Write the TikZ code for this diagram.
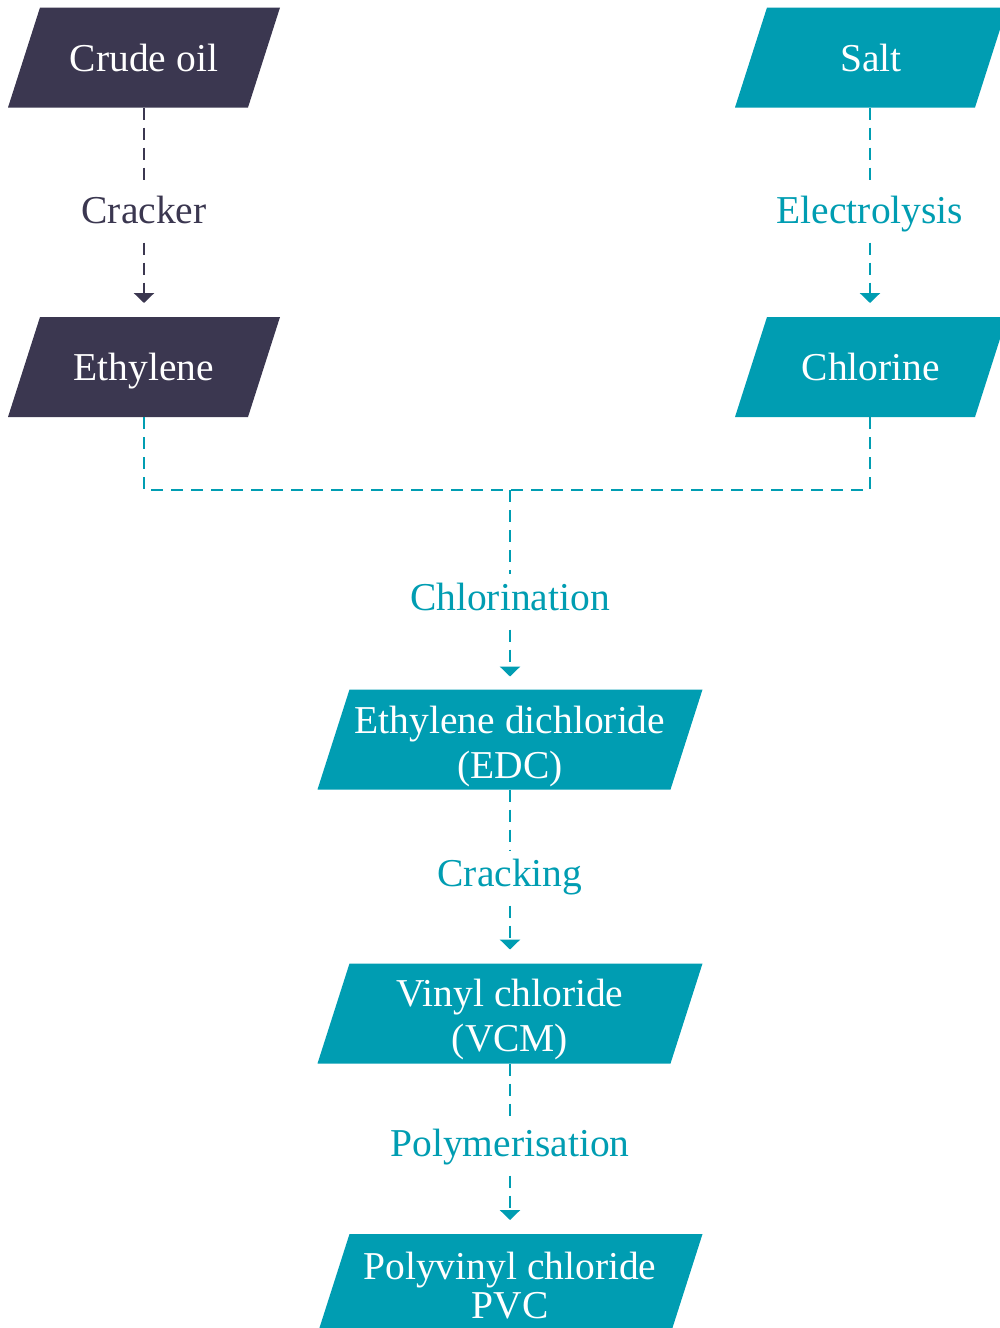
\documentclass[tikz,border=0pt]{standalone}
\usepackage{fontspec}
\setmainfont{Liberation Serif}
\usetikzlibrary{arrows.meta}
\definecolor{dk}{RGB}{59,55,80}
\definecolor{tl}{RGB}{0,157,178}
\newcommand\toprule[1]{\rule{0pt}{#1}}
\newcommand\botrule{\rule[-9.5pt]{0pt}{9.5pt}}
\newcommand\onerule{\rule[-10pt]{0pt}{47pt}}
\begin{document}
\begin{tikzpicture}[x=1pt,y=-1pt,
 box/.style={rectangle, minimum width=272pt, minimum height=100pt, inner sep=0pt, outer sep=0pt, text=white, align=center, font=\fontsize{39.5}{45}\selectfont,
   path picture={\fill[#1] (path picture bounding box.south west) -- ([xshift=-32pt]path picture bounding box.south east) -- (path picture bounding box.north east) -- ([xshift=32pt]path picture bounding box.north west) -- cycle;}},
 darkbox/.style={box=dk},
 tealbox/.style={box=tl},
 wide/.style={minimum width=385pt},
 lbl/.style={fill=white, inner sep=10pt, font=\fontsize{39.5}{45}\selectfont, text height=26pt, text depth=9pt},
 conn/.style={line width=2.8pt, dash pattern=on 12pt off 8pt},
 tip/.style={-{Triangle[width=20pt,length=10pt]}},
]
\useasboundingbox (0,0) rectangle (1000,1328);
\node[darkbox] (crude) at (144,57.5) {\onerule Crude oil};
\node[tealbox] (salt) at (871,57.5) {\onerule Salt};
\node[darkbox] (eth) at (144,367) {\onerule Ethylene};
\node[tealbox] (chl) at (871,367) {\onerule Chlorine};
\node[tealbox,wide] (edc) at (510,739.5) {\toprule{41.7pt}Ethylene dichloride\\(EDC)\botrule};
\node[tealbox,wide] (vcm) at (510,1013.5) {\toprule{39.7pt}Vinyl chloride\\(VCM)\botrule};
\node[tealbox,wide,font=\fontsize{39.5}{39}\selectfont] (pvc) at (510,1284) {\toprule{38.7pt}Polyvinyl chloride\\PVC\botrule};

\node[lbl,text=dk] (cracker) at (144,215) {Cracker};
\node[lbl,text=tl] (electro) at (870,215) {Electrolysis};
\coordinate (merge) at (510,490);
\node[lbl,text=tl] (chlorination) at (510,602) {Chlorination};
\node[lbl,text=tl] (cracking) at (510,878) {Cracking};
\node[lbl,text=tl] (polym) at (510,1148) {Polymerisation};

\draw[conn,dk] (crude) -- (cracker);
\draw[conn,dk,tip,shorten >=14pt] (cracker) -- (eth);
\draw[conn,tl] (salt.south -| electro) -- (electro);
\draw[conn,tl,tip,shorten >=14pt] (electro) -- (chl.north -| electro);
\draw[conn,tl] (eth) |- (merge) -| (chl.south -| electro);
\draw[conn,tl] (merge) -- (chlorination);
\draw[conn,tl,tip,shorten >=13pt] (chlorination) -- (edc);
\draw[conn,tl] (edc) -- (cracking);
\draw[conn,tl,tip,shorten >=14pt] (cracking) -- (vcm);
\draw[conn,tl] (vcm) -- (polym);
\draw[conn,tl,tip,shorten >=14pt] (polym) -- (pvc);
\end{tikzpicture}
\end{document}
